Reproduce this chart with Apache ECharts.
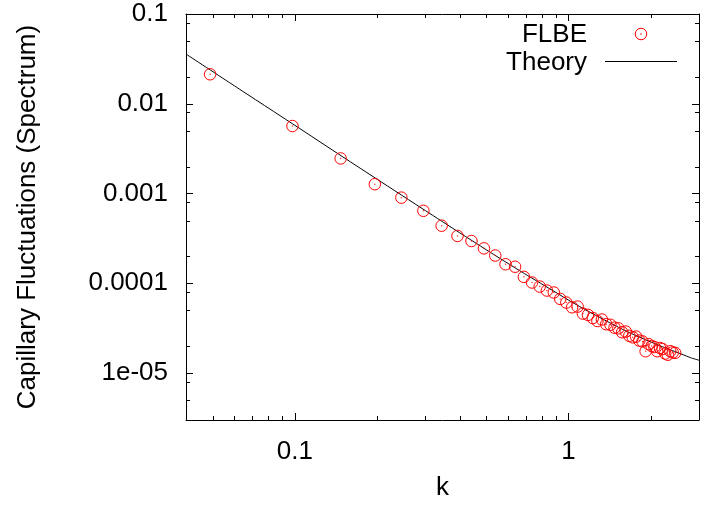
<!DOCTYPE html>
<html><head><meta charset="utf-8">
<script src="https://cdn.jsdelivr.net/npm/echarts@6/dist/echarts.min.js"></script>
<style>html,body{margin:0;padding:0;background:#fff}#c{width:702px;height:506px}</style>
</head><body><div id="c"></div><script>
// FLBE data (k, spectrum)
const kValues = [0.049, 0.098, 0.147, 0.196, 0.245, 0.295, 0.344, 0.393, 0.442, 0.491,
  0.540, 0.589, 0.638, 0.687, 0.736, 0.785, 0.834, 0.884, 0.933, 0.982,
  1.031, 1.080, 1.129, 1.178, 1.227, 1.276, 1.325, 1.374, 1.424, 1.473,
  1.522, 1.571, 1.620, 1.669, 1.718, 1.767, 1.816, 1.865, 1.914, 1.963,
  2.013, 2.062, 2.111, 2.160, 2.209, 2.258, 2.307, 2.356, 2.405, 2.454];
const flbeValues = [0.0213, 5.65e-3, 2.46e-3, 1.27e-3, 9.0e-4, 6.42e-4, 4.38e-4, 3.37e-4, 2.96e-4, 2.45e-4,
  2.04e-4, 1.63e-4, 1.53e-4, 1.18e-4, 1.02e-4, 9.2e-5, 8.3e-5, 7.9e-5, 6.7e-5, 6.1e-5,
  5.4e-5, 5.5e-5, 4.6e-5, 4.45e-5, 4.1e-5, 3.8e-5, 3.95e-5, 3.5e-5, 3.45e-5, 3.2e-5,
  3.15e-5, 2.85e-5, 2.9e-5, 2.6e-5, 2.5e-5, 2.55e-5, 2.3e-5, 2.25e-5, 1.75e-5, 2.1e-5,
  2.0e-5, 1.95e-5, 1.75e-5, 1.9e-5, 1.85e-5, 1.65e-5, 1.6e-5, 1.75e-5, 1.7e-5, 1.68e-5];
// Theory curve
const theoryK = [0.04, 0.06, 0.1, 0.15, 0.2, 0.3, 0.4, 0.5, 0.6, 0.7, 0.8, 0.9, 1.0, 1.1, 1.2, 1.4, 1.6, 1.8, 2.0, 2.2, 2.4, 2.6, 2.8, 3.0];
const theoryS = [0.0358, 0.0159, 5.75e-3, 2.55e-3, 1.44e-3, 6.45e-4, 3.66e-4, 2.37e-4, 1.67e-4, 1.25e-4, 9.8e-5, 7.9e-5, 6.5e-5, 5.5e-5, 4.75e-5, 3.7e-5, 3.0e-5, 2.55e-5, 2.22e-5, 1.97e-5, 1.78e-5, 1.62e-5, 1.48e-5, 1.39e-5];
// axis ticks / labels
const xLabelMap = {'-1': '0.1', '0': '1'};
const yLabelMap = {'-1': '0.1', '-2': '0.01', '-3': '0.001', '-4': '0.0001', '-5': '1e-05'};
const xMinorTicks = [0.05, 0.06, 0.07, 0.08, 0.09, 0.2, 0.3, 0.4, 0.5, 0.6, 0.7, 0.8, 0.9, 2];
const yMinorTicks = [0.08, 0.05, 0.02, 0.008, 0.005, 0.002, 0.0008, 0.0005, 0.0002, 0.00008, 0.00005, 0.00002, 0.000008, 0.000005];
const xRange = [0.04, 3];
const yRange = [3e-6, 0.1];

const FONT = "'Liberation Sans', Arial, Helvetica, sans-serif";
const chart = echarts.init(document.getElementById('c'), null, {renderer: 'canvas'});

function lab(map) {
  return function (v) {
    const e = Math.log10(v);
    const r = Math.round(e);
    if (Math.abs(e - r) < 1e-6 && map[String(r)] !== undefined) return map[String(r)];
    return '';
  };
}

const baseAxis = {
  type: 'log', logBase: 10,
  axisLine: {show: true, onZero: false, lineStyle: {color: '#000', width: 1}},
  axisTick: {show: true, inside: true, length: 7, lineStyle: {color: '#000', width: 1}},
  splitLine: {show: false},
  minorTick: {show: false}
};

const option = {
  animation: false,
  backgroundColor: '#fff',
  grid: {left: 186, top: 14, right: -8, bottom: 84, containLabel: false},
  xAxis: [
    Object.assign({}, baseAxis, {
      min: xRange[0], max: xRange[1], position: 'bottom',
      name: 'k', nameLocation: 'middle', nameGap: 55,
      nameTextStyle: {fontFamily: FONT, fontSize: 26, color: '#000'},
      axisLabel: {formatter: lab(xLabelMap), margin: 19, fontFamily: FONT, fontSize: 26, color: '#000'}
    }),
    Object.assign({}, baseAxis, {
      min: xRange[0], max: xRange[1], position: 'top',
      axisLabel: {show: false}
    })
  ],
  yAxis: [
    Object.assign({}, baseAxis, {
      min: yRange[0], max: yRange[1], position: 'left',
      name: 'Capillary Fluctuations (Spectrum)', nameLocation: 'middle', nameRotate: 90, nameGap: 145,
      nameTextStyle: {fontFamily: FONT, fontSize: 26, color: '#000'},
      axisLabel: {formatter: lab(yLabelMap), margin: 18, fontFamily: FONT, fontSize: 26, color: '#000'}
    }),
    Object.assign({}, baseAxis, {
      min: yRange[0], max: yRange[1], position: 'right',
      axisLabel: {show: false}
    })
  ],
  series: [
    {
      name: 'Theory', type: 'line', xAxisIndex: 0, yAxisIndex: 0,
      data: theoryK.map((k, i) => [k, theoryS[i]]),
      showSymbol: false, smooth: 0.2, clip: true,
      lineStyle: {color: '#000', width: 1}, silent: true, z: 2
    },
    {
      name: 'FLBE', type: 'scatter', xAxisIndex: 0, yAxisIndex: 0,
      data: kValues.map((k, i) => [k, flbeValues[i]]),
      symbol: 'circle', symbolSize: 11.5,
      itemStyle: {color: 'rgba(0,0,0,0)', borderColor: '#ff0000', borderWidth: 1, opacity: 1},
      silent: true, z: 3
    },
    {
      name: 'FLBEdot', type: 'scatter', xAxisIndex: 0, yAxisIndex: 0,
      data: kValues.map((k, i) => [k, flbeValues[i]]),
      symbol: 'circle', symbolSize: 1.5,
      itemStyle: {color: '#ff0000', opacity: 0.8},
      silent: true, z: 3
    }
  ]
};
chart.setOption(option);

// minor ticks & legend via graphic, positioned with the library's own scales
const yBot = chart.convertToPixel({yAxisIndex: 0}, yRange[0]);
const yTop = chart.convertToPixel({yAxisIndex: 0}, yRange[1]);
const xLeft = chart.convertToPixel({xAxisIndex: 0}, xRange[0]);
const xRight = chart.convertToPixel({xAxisIndex: 0}, xRange[1]);
const g = [];
const ml = 4;
xMinorTicks.forEach(v => {
  const x = Math.round(chart.convertToPixel({xAxisIndex: 0}, v)) + 0.5;
  g.push({type: 'line', shape: {x1: x, y1: yBot, x2: x, y2: yBot - ml}, style: {stroke: '#000', lineWidth: 1}, silent: true});
  g.push({type: 'line', shape: {x1: x, y1: yTop, x2: x, y2: yTop + ml}, style: {stroke: '#000', lineWidth: 1}, silent: true});
});
yMinorTicks.forEach(v => {
  const y = Math.round(chart.convertToPixel({yAxisIndex: 0}, v)) + 0.5;
  g.push({type: 'line', shape: {x1: xLeft, y1: y, x2: xLeft + ml, y2: y}, style: {stroke: '#000', lineWidth: 1}, silent: true});
  g.push({type: 'line', shape: {x1: xRight, y1: y, x2: xRight - ml, y2: y}, style: {stroke: '#000', lineWidth: 1}, silent: true});
});
// legend
g.push({type: 'text', x: 587, y: 35, style: {text: 'FLBE', font: '26px ' + FONT, fill: '#000', align: 'right', verticalAlign: 'middle'}, silent: true});
g.push({type: 'circle', shape: {cx: 641, cy: 34, r: 5.75}, style: {fill: 'none', stroke: '#ff0000', lineWidth: 1}, silent: true});
g.push({type: 'circle', shape: {cx: 641, cy: 34, r: 0.75}, style: {fill: '#ff0000'}, silent: true});
g.push({type: 'text', x: 587, y: 62.5, style: {text: 'Theory', font: '26px ' + FONT, fill: '#000', align: 'right', verticalAlign: 'middle'}, silent: true});
g.push({type: 'line', shape: {x1: 605, y1: 61.5, x2: 677, y2: 61.5}, style: {stroke: '#000', lineWidth: 1}, silent: true});
chart.setOption({graphic: {elements: g}});
</script></body></html>
